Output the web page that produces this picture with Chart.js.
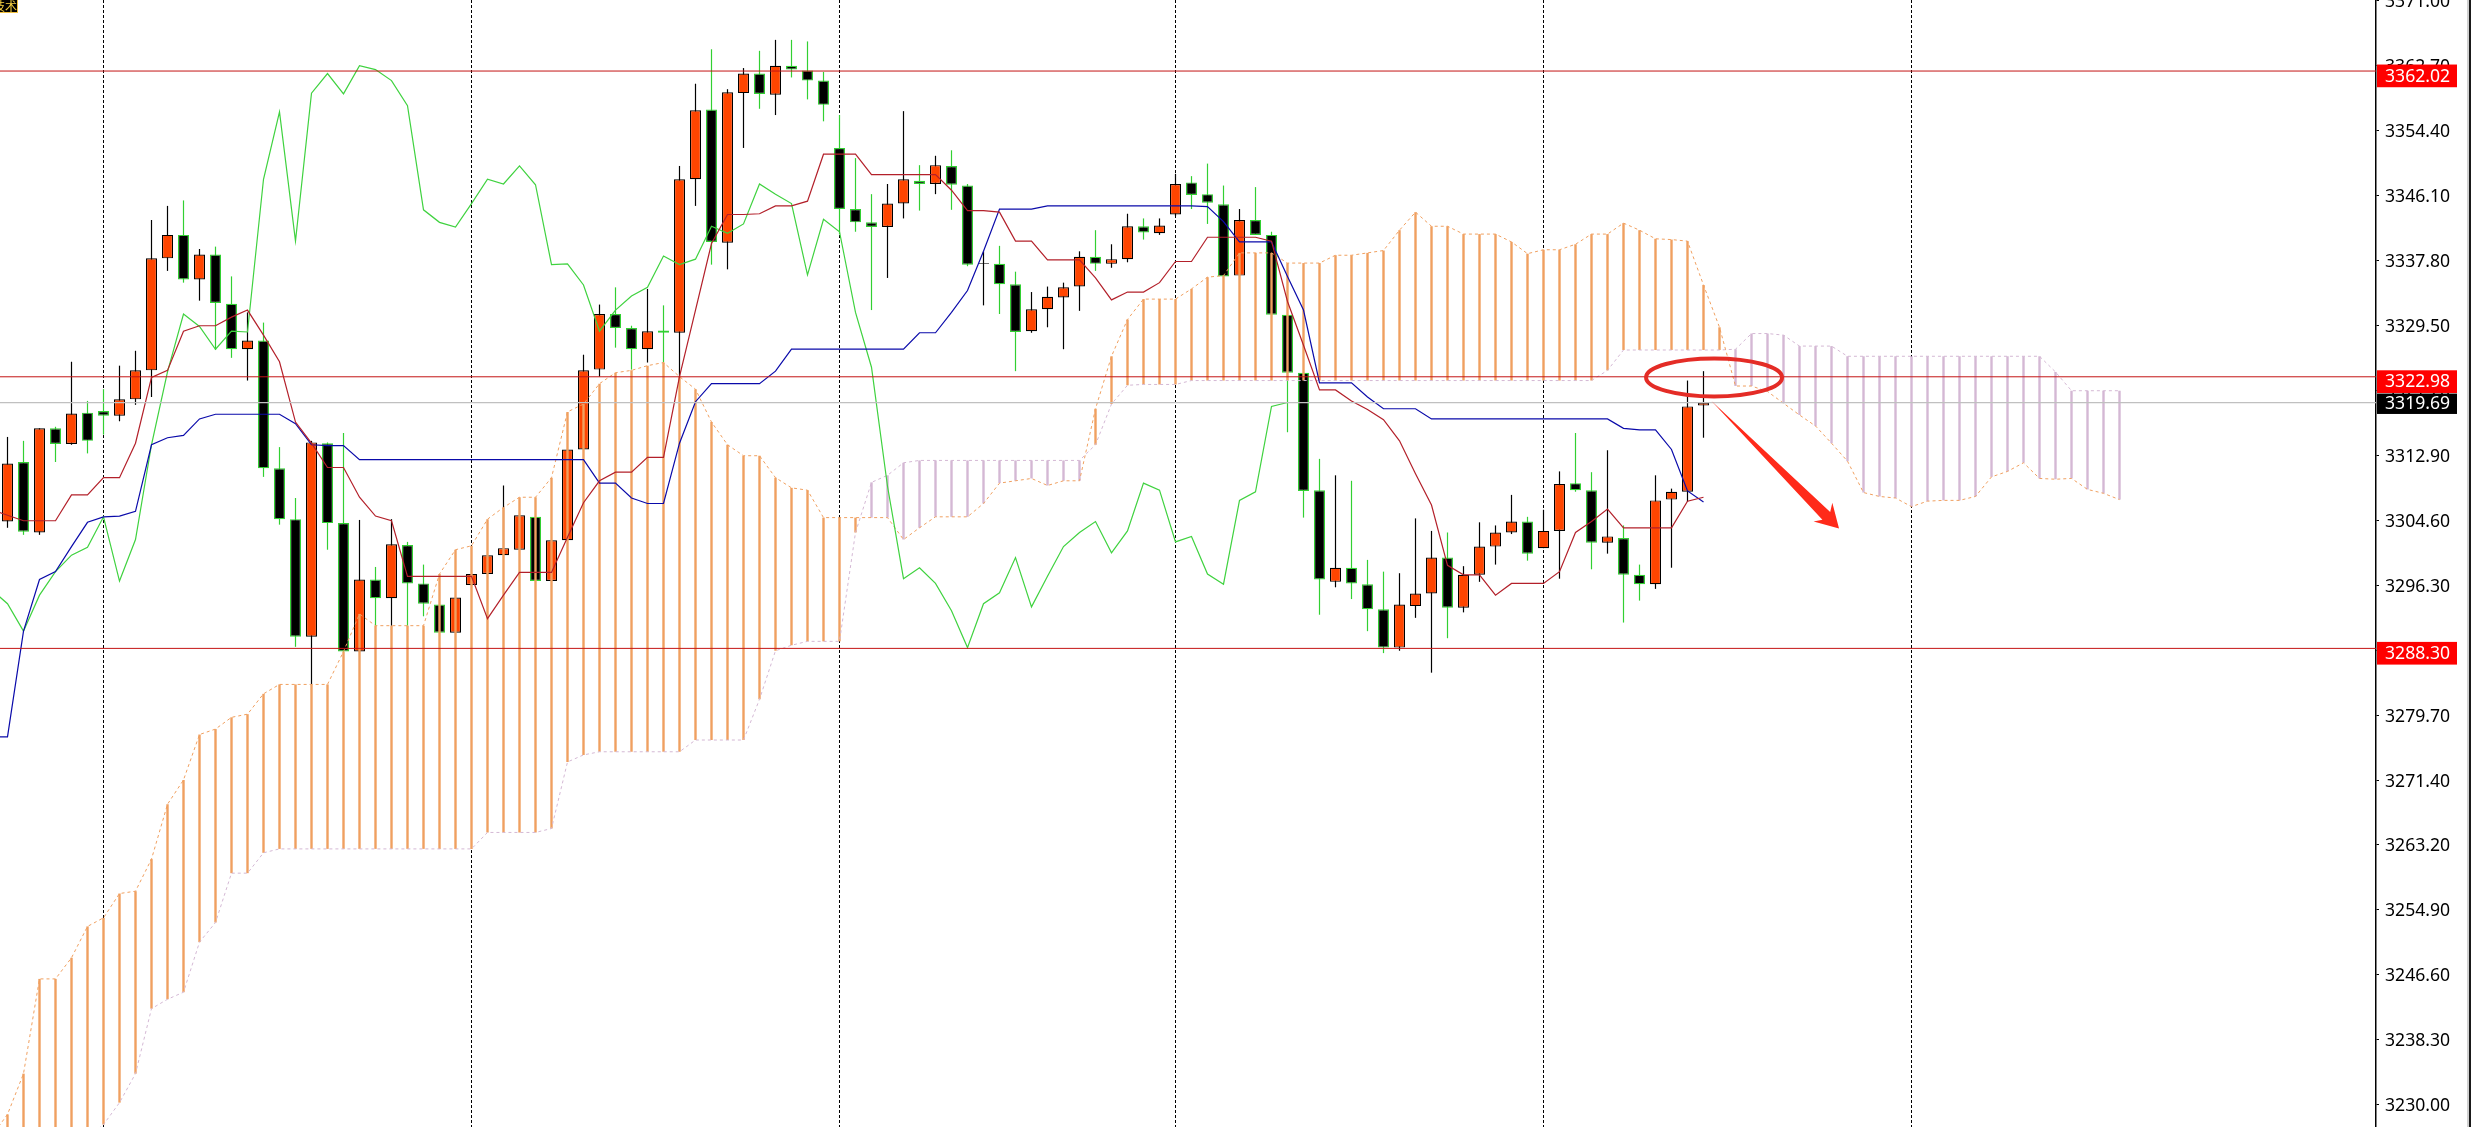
<!DOCTYPE html>
<html>
<head>
<meta charset="utf-8">
<title>XAUUSD Ichimoku</title>
<script src="https://cdn.jsdelivr.net/npm/chart.js@4/dist/chart.umd.min.js"></script>
<style>
  html, body { margin: 0; padding: 0; background: #fff; overflow: hidden; }
  canvas { display: block; }
</style>
</head>
<body>
<canvas id="grafica" width="2471" height="1127"></canvas>
<script>
// Velas, la posicion en el arreglo es el indice de la barra
const opens = [3304.5,3312.1,3303.1,3316.4,3314.4,3318.4,3318.6,3318.0,3320.1,3323.8,3338.1,3341.1,3335.4,3338.6,3332.3,3326.5,3327.6,3311.3,3304.8,3289.8,3314.5,3304.3,3287.9,3297.1,3294.7,3301.5,3296.6,3293.9,3290.3,3296.4,3297.8,3300.2,3300.9,3305.1,3296.9,3302.1,3313.7,3323.9,3331.0,3329.2,3326.5,3328.9,3328.6,3348.2,3357.1,3340.1,3359.2,3361.7,3359.0,3362.7,3362.1,3360.8,3352.2,3344.4,3342.7,3342.1,3345.1,3348.0,3347.6,3349.9,3347.4,3337.4,3337.4,3334.8,3328.8,3331.6,3333.1,3334.5,3338.3,3337.4,3338.0,3342.2,3341.3,3343.7,3347.8,3346.3,3345.0,3335.9,3343.0,3341.1,3330.9,3323.5,3308.5,3296.8,3298.6,3296.5,3293.3,3288.4,3293.7,3295.3,3299.9,3293.5,3297.7,3301.3,3303.1,3304.5,3301.1,3303.3,3309.4,3308.5,3301.8,3302.4,3297.7,3296.5,3307.3,3308.3,3319.3];
const highs = [3315.3,3314.8,3316.4,3316.6,3324.9,3319.9,3321.4,3324.4,3326.3,3343.0,3344.8,3345.5,3339.3,3339.6,3335.8,3331.2,3329.9,3314.0,3307.5,3314.8,3314.6,3315.8,3304.7,3298.7,3304.8,3301.9,3299.0,3293.9,3294.8,3297.8,3300.2,3309.1,3305.3,3305.1,3302.1,3313.7,3325.8,3332.2,3334.4,3329.5,3334.2,3332.1,3349.9,3360.4,3364.8,3359.7,3362.4,3364.6,3366.0,3366.0,3365.8,3361.9,3356.4,3350.9,3346.3,3347.6,3356.9,3350.0,3351.2,3351.9,3347.6,3339.0,3339.7,3336.4,3333.8,3334.5,3335.0,3339.0,3341.7,3339.9,3343.8,3343.2,3343.2,3348.9,3348.6,3350.2,3347.4,3344.4,3347.2,3341.5,3330.9,3323.5,3312.5,3310.4,3309.7,3299.6,3298.1,3297.9,3304.9,3303.3,3303.1,3298.8,3304.4,3304.0,3307.9,3305.1,3306.0,3310.9,3315.8,3310.8,3313.6,3304.0,3299.0,3310.4,3308.7,3322.5,3323.7];
const lows = [3303.7,3302.8,3302.8,3312.1,3314.3,3313.2,3315.6,3317.3,3319.4,3320.4,3336.5,3335.0,3332.7,3326.4,3325.4,3322.5,3310.2,3304.1,3288.5,3283.7,3300.9,3287.8,3287.8,3291.2,3291.2,3291.2,3292.4,3290.3,3290.3,3296.3,3297.8,3300.2,3300.9,3296.9,3296.9,3302.1,3313.7,3323.0,3326.7,3323.9,3324.8,3324.8,3323.0,3344.8,3337.3,3336.7,3352.2,3357.2,3356.4,3361.2,3358.4,3355.6,3341.2,3341.5,3331.5,3335.6,3343.2,3344.2,3346.3,3344.3,3337.1,3332.1,3331.0,3323.7,3328.6,3329.3,3326.5,3331.4,3336.5,3336.9,3337.6,3340.5,3341.1,3343.5,3344.4,3342.5,3335.8,3335.9,3341.1,3330.9,3315.9,3305.0,3292.6,3296.1,3294.6,3290.5,3287.7,3288.0,3292.2,3285.2,3289.6,3292.9,3296.8,3299.0,3302.9,3299.5,3301.1,3297.2,3308.3,3298.4,3300.4,3291.6,3294.4,3295.9,3298.6,3307.0,3315.2];
const closes = [3311.9,3303.2,3316.4,3314.4,3318.3,3314.8,3318.0,3320.1,3323.8,3338.1,3341.1,3335.4,3338.6,3332.4,3326.5,3327.6,3311.3,3304.8,3289.8,3314.6,3304.3,3287.9,3297.1,3294.7,3301.6,3296.6,3294.0,3290.3,3294.8,3297.8,3300.2,3301.1,3305.3,3296.9,3302.1,3313.7,3323.8,3331.0,3329.2,3326.5,3328.8,3328.6,3348.2,3357.0,3340.2,3359.3,3361.7,3359.1,3362.7,3362.2,3360.8,3357.7,3344.4,3342.7,3342.1,3345.1,3348.2,3347.6,3350.0,3347.5,3337.3,3337.5,3334.8,3328.7,3331.6,3333.2,3334.4,3338.3,3337.4,3338.0,3342.2,3341.4,3342.3,3347.6,3346.2,3345.2,3335.8,3343.0,3341.1,3330.9,3323.5,3308.4,3297.1,3298.6,3296.6,3293.3,3288.4,3293.9,3295.3,3299.9,3293.5,3297.7,3301.3,3303.1,3304.5,3300.4,3303.3,3309.3,3308.5,3301.8,3302.6,3297.7,3296.5,3307.2,3308.3,3319.2,3319.7];

// Lineas Ichimoku, estas arrancan una barra antes de la primera vela (indice -1)
const tenkan = [3306.0,3305.3,3304.6,3304.6,3304.6,3307.9,3307.9,3310.1,3310.1,3314.5,3322.9,3323.8,3328.8,3329.5,3329.5,3330.6,3331.5,3328.3,3324.9,3317.2,3314.5,3311.4,3311.4,3307.6,3305.2,3304.6,3297.5,3297.5,3297.5,3297.5,3297.5,3292.1,3295.1,3298.0,3298.0,3298.0,3302.5,3306.9,3309.7,3310.8,3310.8,3312.7,3312.7,3323.0,3331.5,3340.0,3343.7,3343.7,3343.8,3344.8,3344.8,3345.4,3351.4,3351.4,3351.4,3348.8,3348.8,3348.8,3348.8,3348.8,3346.8,3344.2,3344.2,3344.0,3340.3,3340.3,3337.9,3337.9,3337.9,3335.6,3332.8,3333.8,3333.8,3335.0,3337.7,3337.7,3340.8,3340.8,3340.8,3340.8,3340.3,3332.6,3327.0,3321.3,3321.3,3319.9,3318.8,3317.5,3314.8,3310.6,3306.6,3298.9,3297.7,3297.7,3295.1,3296.6,3296.6,3296.6,3298.1,3303.1,3304.5,3306.1,3303.7,3303.7,3303.7,3303.7,3307.1,3307.6];
const kijun = [3277.0,3277.0,3290.5,3297.1,3298.1,3301.3,3304.4,3305.1,3305.2,3305.8,3314.3,3315.2,3315.5,3317.6,3318.2,3318.2,3318.2,3318.2,3318.2,3317.0,3314.3,3314.2,3314.2,3312.4,3312.4,3312.4,3312.4,3312.4,3312.4,3312.4,3312.4,3312.4,3312.4,3312.4,3312.4,3312.4,3312.4,3312.4,3309.4,3309.4,3307.5,3306.8,3306.8,3314.5,3319.8,3322.1,3322.1,3322.1,3322.1,3323.7,3326.5,3326.5,3326.5,3326.5,3326.5,3326.5,3326.5,3326.5,3328.6,3328.6,3331.2,3334.0,3339.0,3344.4,3344.4,3344.4,3344.8,3344.8,3344.8,3344.8,3344.8,3344.8,3344.8,3344.8,3344.8,3344.8,3344.7,3342.8,3340.2,3340.2,3340.2,3335.8,3331.5,3322.2,3322.2,3322.2,3320.4,3318.9,3318.9,3318.9,3317.6,3317.6,3317.6,3317.6,3317.6,3317.6,3317.6,3317.6,3317.6,3317.6,3317.6,3317.6,3316.4,3316.2,3316.2,3313.7,3308.4,3307.0];
const chikou = [3295.8,3294.0,3290.5,3295.1,3298.1,3300.2,3301.2,3305.1,3296.9,3302.2,3314.3,3323.6,3331.0,3329.4,3326.5,3328.8,3328.7,3348.2,3356.8,3340.3,3359.2,3361.7,3359.1,3362.7,3362.2,3360.8,3357.6,3344.3,3342.7,3342.1,3345.1,3348.2,3347.6,3349.9,3347.5,3337.3,3337.4,3334.7,3328.8,3331.5,3333.3,3334.4,3338.4,3337.3,3338.0,3342.2,3341.3,3342.5,3347.6,3346.3,3345.1,3336.0,3343.1,3341.5,3331.2,3324.2,3309.0,3297.2,3298.6,3296.6,3293.1,3288.4,3294.0,3295.4,3299.9,3293.6,3297.5,3301.3,3303.1,3304.5,3300.5,3303.3,3309.4,3308.5,3301.9,3302.6,3297.8,3296.5,3307.2,3308.3,3319.2,3319.7];
const senkouA = [3226.0,3228.8,3234.0,3246.1,3246.1,3248.8,3252.8,3253.9,3257.0,3257.3,3261.4,3268.4,3271.5,3277.3,3278.0,3279.5,3279.9,3282.5,3283.7,3283.7,3283.7,3283.7,3287.9,3292.7,3291.2,3291.2,3291.2,3291.2,3297.8,3300.9,3301.4,3304.8,3306.3,3307.6,3307.6,3310.1,3318.5,3319.5,3322.1,3323.5,3323.8,3324.4,3324.8,3323.0,3321.4,3317.2,3314.3,3312.9,3312.9,3310.1,3308.8,3308.5,3305.0,3305.0,3305.0,3305.0,3305.0,3302.2,3303.7,3305.1,3305.1,3305.1,3306.8,3309.4,3309.7,3310.0,3309.1,3309.7,3309.7,3318.9,3325.6,3330.3,3332.9,3332.9,3332.9,3334.2,3335.7,3335.9,3338.8,3338.8,3338.8,3337.5,3337.5,3337.5,3338.5,3338.5,3338.8,3339.1,3341.7,3344.0,3342.2,3342.2,3341.2,3341.2,3341.2,3340.2,3338.7,3339.2,3339.2,3339.9,3341.2,3341.2,3342.6,3341.7,3340.6,3340.5,3340.3,3334.7,3329.3,3321.8,3321.8,3321.1,3319.6,3318.1,3316.7,3314.5,3312.2,3308.2,3307.7,3307.5,3306.4,3307.1,3307.2,3307.2,3307.7,3310.2,3310.9,3312.0,3310.0,3309.9,3310.0,3308.6,3308.1,3307.3];
const senkouB = [3220.0,3221.0,3222.0,3223.0,3224.0,3225.0,3226.0,3227.5,3230.3,3234.0,3242.3,3243.5,3244.4,3250.8,3253.3,3259.6,3259.6,3262.2,3262.7,3262.7,3262.7,3262.7,3262.7,3262.7,3262.7,3262.7,3262.7,3262.7,3262.7,3262.7,3262.7,3264.8,3264.8,3264.8,3264.8,3265.3,3273.8,3274.7,3275.1,3275.1,3275.1,3275.1,3275.1,3275.1,3276.6,3276.6,3276.6,3276.6,3281.8,3288.0,3288.7,3289.2,3289.2,3289.2,3303.1,3309.5,3310.4,3312.0,3312.3,3312.3,3312.3,3312.3,3312.3,3312.3,3312.3,3312.3,3312.3,3312.3,3312.3,3314.3,3319.5,3321.9,3322.0,3322.0,3322.0,3322.5,3322.5,3322.5,3322.5,3322.5,3322.5,3322.5,3322.5,3322.5,3322.5,3322.5,3322.5,3322.5,3322.5,3322.5,3322.5,3322.5,3322.5,3322.5,3322.5,3322.5,3322.5,3322.5,3322.5,3322.5,3322.5,3323.8,3326.4,3326.4,3326.4,3326.4,3326.4,3326.4,3326.4,3326.5,3328.5,3328.5,3328.3,3326.9,3326.9,3326.9,3325.6,3325.6,3325.6,3325.6,3325.6,3325.6,3325.6,3325.6,3325.6,3325.6,3325.6,3325.6,3325.6,3323.6,3321.2,3321.2,3321.2,3321.2];

// Eje de precios, niveles marcados y barras con separador vertical
const yTicks = [3371.0,3362.7,3354.4,3346.1,3337.8,3329.5,3321.2,3312.9,3304.6,3296.3,3288.0,3279.7,3271.4,3263.2,3254.9,3246.6,3238.3,3230.0];
const niveles = [3362.02,3322.98,3288.30];
const ultimoPrecio = 3319.69;
const separadores = [6,29,52,73,96,119];
const xMin = -0.46875;
const xMax = 148.03125;
const yMin = 3227.19;
const yMax = 3371.09;

// Anotaciones hechas a mano sobre el grafico (barra, precio)
const elipse = { x: 106.66, y: 3322.9 };
const flechaDesde = { x: 106.5, y: 3319.9 };
const flechaHasta = { x: 114.47, y: 3303.6 };

const ROJO_NIVEL = '#c41414';
const VERDE = '#32d032';
const NARANJA = '#ff4500';
const NUBE_SUBE = '#f0a060';
const NUBE_BAJA = '#d4b8d4';
const FUENTE = '"Noto Sans", "DejaVu Sans", sans-serif';

const indices = opens.map((o, i) => i);
const subeVela = (i) => closes[i] >= opens[i];
const velasArriba = indices.filter(subeVela);
const velasAbajo = indices.filter((i) => !subeVela(i));

// Desde el indice 0 hasta la ultima barra de la nube
const nubeIndices = senkouA.map((v, i) => i - 1).filter((i) => i >= 0);
const nubeArriba = nubeIndices.filter((i) => senkouA[i + 1] >= senkouB[i + 1]);
const nubeAbajo = nubeIndices.filter((i) => senkouA[i + 1] < senkouB[i + 1]);

const mecha = (lista) => lista.map((i) => ({ x: i, y: [lows[i], highs[i]] }));
const cuerpo = (lista) => lista.map((i) => ({ x: i, y: [opens[i], closes[i]] }));
const franja = (lista) => lista.map((i) => ({ x: i, y: [senkouA[i + 1], senkouB[i + 1]] }));
const linea = (valores) => valores.map((v, i) => ({ x: i - 1, y: v }));
const horizontal = (v) => [{ x: xMin, y: v }, { x: xMax, y: v }];

const barra = (data, color, ancho, orden, borde) => ({
    type: 'bar',
    data: data,
    grouped: false,
    barThickness: ancho,
    maxBarThickness: ancho,
    backgroundColor: color,
    borderColor: borde || color,
    borderWidth: borde ? 1.2 : 0,
    borderSkipped: false,
    inflateAmount: 0,
    order: orden
});

const trazo = (data, color, ancho, orden, guiones) => ({
    type: 'line',
    data: data,
    borderColor: color,
    borderWidth: ancho,
    borderDash: guiones || [],
    pointRadius: 0,
    tension: 0,
    fill: false,
    order: orden
});

const datasets = [
    barra(mecha(velasArriba), '#000000', 1.2, 20),
    barra(mecha(velasAbajo), VERDE, 1.2, 20),
    barra(cuerpo(velasArriba), NARANJA, 11, 19, '#000000'),
    barra(cuerpo(velasAbajo), '#000000', 11, 19, VERDE),
    barra(franja(nubeArriba), NUBE_SUBE, 2.4, 18),
    barra(franja(nubeAbajo), NUBE_BAJA, 2.4, 18),
    trazo(linea(senkouA), NUBE_SUBE, 1, 17, [3, 3]),
    trazo(linea(senkouB), NUBE_BAJA, 1, 17, [3, 3]),
    trazo(linea(chikou), '#3fd23f', 1.2, 16),
    trazo(linea(kijun), '#0a0aaa', 1.2, 15),
    trazo(linea(tenkan), '#b3202a', 1.2, 14),
    trazo(horizontal(ultimoPrecio), '#c0c0c0', 1.2, 13)
];
niveles.forEach((n) => datasets.push(trazo(horizontal(n), ROJO_NIVEL, 1, 12)));

// Etiquetas de precio, marca de arriba a la izquierda y dibujo a mano
const extras = {
    id: 'extras',
    afterDraw(chart) {
        const ctx = chart.ctx;
        const sx = chart.scales.x;
        const sy = chart.scales.y;
        const area = chart.chartArea;

        ctx.save();
        ctx.font = '17.6px ' + FUENTE;
        ctx.textBaseline = 'middle';
        ctx.textAlign = 'left';
        niveles.forEach((n) => {
            const py = sy.getPixelForValue(n);
            ctx.fillStyle = '#ff0000';
            ctx.fillRect(area.right + 1, py - 6.5, 80, 22.7);
            ctx.fillStyle = '#ffffff';
            ctx.fillText(n.toFixed(2), area.right + 9, py + 5.5);
        });
        const pu = sy.getPixelForValue(ultimoPrecio);
        ctx.fillStyle = '#000000';
        ctx.fillRect(area.right + 1, pu - 9, 80, 20.4);
        ctx.fillStyle = '#ffffff';
        ctx.fillText(ultimoPrecio.toFixed(2), area.right + 9, pu + 1.5);

        // borde derecho de la ventana
        ctx.fillStyle = '#d0d0d0';
        ctx.fillRect(2467, 0, 2, chart.height);
        ctx.fillStyle = '#1a1a1a';
        ctx.fillRect(2469, 0, 2, chart.height);

        // marca cortada de arriba a la izquierda
        ctx.beginPath();
        ctx.rect(0, 0, 18, 13);
        ctx.clip();
        ctx.fillStyle = '#000000';
        ctx.fillRect(0, 0, 18, 13);
        ctx.strokeStyle = '#f0c040';
        ctx.lineWidth = 2;
        ctx.strokeRect(-2, -2, 20, 15);
        ctx.fillStyle = '#f5d040';
        ctx.font = '12px "Noto Sans CJK SC"';
        ctx.textAlign = 'right';
        ctx.fillText('技术', 17, 6);
        ctx.restore();

        // elipse roja
        ctx.save();
        ctx.strokeStyle = '#e42c26';
        ctx.lineWidth = 4;
        ctx.beginPath();
        ctx.ellipse(sx.getPixelForValue(elipse.x), sy.getPixelForValue(elipse.y), 68, 19, 0, 0, Math.PI * 2);
        ctx.stroke();

        // flecha roja, se va ensanchando hasta la punta
        const ax = sx.getPixelForValue(flechaDesde.x);
        const ay = sy.getPixelForValue(flechaDesde.y);
        const bx = sx.getPixelForValue(flechaHasta.x);
        const by = sy.getPixelForValue(flechaHasta.y);
        const largo = Math.hypot(bx - ax, by - ay);
        const ux = (bx - ax) / largo;
        const uy = (by - ay) / largo;
        const punto = (atras, lado) => [bx - ux * atras - uy * lado, by - uy * atras + ux * lado];
        const contorno = [[ax, ay], punto(18, -5.5), punto(23, -13.5), [bx, by], punto(23, 13), punto(18, 5.5)];
        ctx.fillStyle = '#ff2a1a';
        ctx.beginPath();
        contorno.forEach((p, i) => (i === 0 ? ctx.moveTo(p[0], p[1]) : ctx.lineTo(p[0], p[1])));
        ctx.closePath();
        ctx.fill();
        ctx.restore();
    }
};

new Chart(document.getElementById('grafica').getContext('2d'), {
    data: { datasets: datasets },
    plugins: [extras],
    options: {
        responsive: false,
        animation: false,
        events: [],
        layout: { padding: 0 },
        plugins: { legend: { display: false }, tooltip: { enabled: false }, title: { display: false } },
        scales: {
            x: {
                type: 'linear',
                min: xMin,
                max: xMax,
                offset: false,
                afterBuildTicks: (scale) => { scale.ticks = separadores.map((v) => ({ value: v })); },
                ticks: { display: false },
                grid: { color: '#000000', lineWidth: 1, drawTicks: false, offset: false },
                border: { display: false, dash: [3, 2] }
            },
            y: {
                position: 'right',
                min: yMin,
                max: yMax,
                afterBuildTicks: (scale) => { scale.ticks = yTicks.map((v) => ({ value: v })); },
                afterFit: (scale) => {
                    scale.width = 95;
                    scale.paddingTop = 0;
                    scale.paddingBottom = 0;
                },
                ticks: {
                    autoSkip: false,
                    maxRotation: 0,
                    padding: 6,
                    labelOffset: 1,
                    color: '#000000',
                    font: { family: FUENTE, size: 17.6 },
                    callback: (v) => Number(v).toFixed(2)
                },
                grid: { drawOnChartArea: false, drawTicks: true, tickLength: 3, tickColor: '#000000', tickWidth: 1 },
                border: { display: true, color: '#000000', width: 1.5 }
            }
        }
    }
});
</script>
</body>
</html>
